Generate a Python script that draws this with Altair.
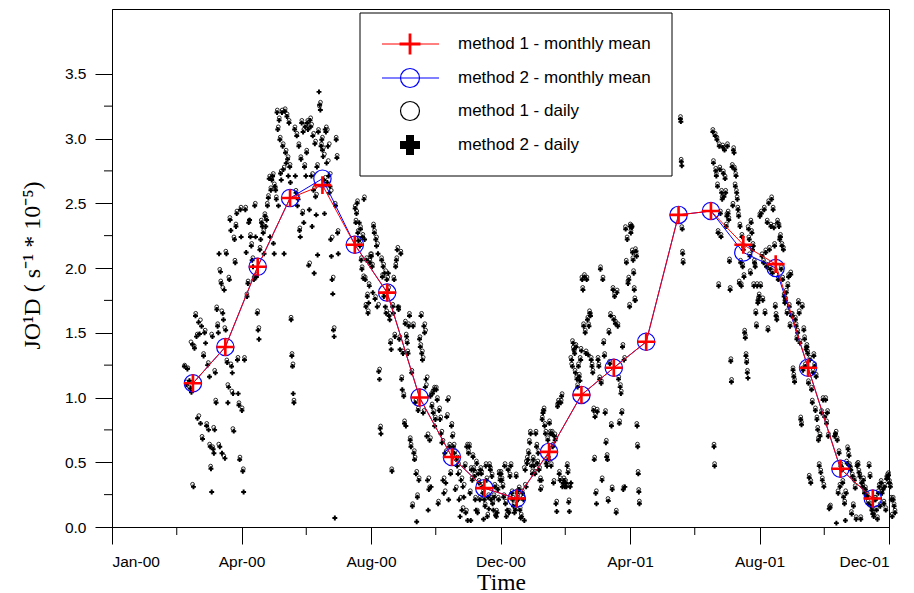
import altair as alt
import pandas as pd

# ---------------- data ----------------
mean_months = ["2000-03", "2000-04", "2000-05", "2000-06", "2000-07", "2000-08",
               "2000-09", "2000-10", "2000-11", "2000-12", "2001-01", "2001-02",
               "2001-03", "2001-04", "2001-05", "2001-06", "2001-07", "2001-08",
               "2001-09", "2001-10", "2001-11", "2001-12"]
mean_m1 = [1.11, 1.39, 2.01, 2.54, 2.64, 2.18, 1.81, 1.00, 0.54, 0.30, 0.22, 0.58,
           1.02, 1.23, 1.43, 2.41, 2.44, 2.18, 2.03, 1.23, 0.45, 0.22]
mean_m2 = [1.11, 1.39, 2.01, 2.54, 2.69, 2.18, 1.81, 1.00, 0.54, 0.30, 0.22, 0.58,
           1.02, 1.23, 1.43, 2.41, 2.44, 2.12, 2.00, 1.23, 0.45, 0.22]

# daily data, grouped in runs of days (start / end in months since Jan 2000)
daily_start = [2.22, 3, 4, 5, 6, 7.5, 8, 9, 10, 11, 12, 13, 14, 15, 16.0, 17.55,
               18.55, 19, 20, 21, 22, 23]
daily_end = [3, 4, 5, 6, 7, 8, 9, 10, 11, 12, 13, 14, 15, 16, 16.3, 17.65,
             19, 20, 21, 22, 23, 24.2]

daily_m2 = [
    [1.24, None, 1.10, 1.22, None, 1.13, 1.07, 1.04, 1.41, 0.31, 1.38, 1.63, 1.47, 0.84, 1.58, 1.49,
     0.80, 1.55, 0.68, 1.32, 1.50, 1.42, 0.78, 1.25, 0.75],
    [1.16, 0.62, 0.45, 0.27, 1.47, 0.60, 0.57, 0.75, 1.19, 0.96, 1.68, 1.55, 1.50, 2.11, 0.62, 1.97,
     1.88, 0.57, 1.65, 1.60, 1.83, 0.53, 1.52, 2.11, 1.27, 0.96, 1.08, 1.91, 2.37, 2.29, 1.24, 1.19,
     1.03, 0.74, 2.22, 2.04, 2.32, 2.42, 1.29, 1.03, 0.94, 0.52, 2.45, 2.24],
    [0.90, 0.43, 0.27, 1.29, 2.45, 2.12, 1.78, 1.88, 2.35, 2.37, 2.24, 2.17, 2.06, 2.01, 1.91, 2.48,
     2.24, 1.93, 1.65, 1.52, 1.45, 2.14, 2.22, 2.35, 2.32, 2.27, 2.11, 2.40, 2.32, 2.37, 2.48, 2.54,
     2.69, 2.24, 2.60, 2.68, 2.71, 2.19],
    [2.11, 2.63, 2.60, 2.53, 3.20, 3.07, 2.48, 3.14, 2.99, 2.73, 2.68, 3.20, 2.94, 2.76, 2.11, 3.21,
     2.89, 2.81, 3.17, 2.84, 2.71, 3.12, 2.78, 2.66, 1.60, 1.32, 1.24, 1.03, 0.96, 3.07, 2.71, 2.58,
     3.02, 2.48, 2.53, 2.94, 2.29, 2.24, 2.84, 3.12, 2.42, 3.05, 2.35, 2.78, 3.09, 2.71],
    [2.89, 3.12, 3.07, 2.02, 2.45, 3.14, 3.09, 2.71, 2.32, 3.02, 2.60, 1.96, 2.96, 2.55, 2.41, 2.78,
     2.10, 3.05, 3.36, 3.26, 3.22, 2.94, 2.99, 2.91, 2.86, 2.68, 2.42, 3.07, 3.05, 2.81, 2.66, 2.94,
     2.71, 2.58, 2.63, 2.22, 2.09, 1.91, 1.80, 1.52, 1.47, 0.07, 2.48, 2.99, 2.85, 2.27, 2.11],
    [2.46, 2.35, 2.42, 2.50, 2.27, 2.21, 2.35, 2.17, 2.30, 2.06, 1.99, 2.24, 1.92, 2.53, 2.22, 1.91,
     1.70, 2.06, 1.78, 1.65, 1.73, 1.86, 2.04, 2.09],
    [2.09, 2.01, 1.81, 2.32, 2.27, 1.76, 2.22, 2.17, 1.70, 2.11, 1.20, 1.14, 0.76, 0.72, 2.06, 1.93,
     2.01, 1.78, 1.96, 1.70, 1.65, 1.91, 1.83, 1.96, 1.63, 1.60, 1.42, 1.37, 0.43, 1.70, 1.65, 1.91,
     1.47, 2.01, 2.06, 2.14, 1.70, 1.68, 1.45, 1.37, 2.11, 1.14, 1.06, 1.34],
    [1.01, 0.80, 1.57, 0.78, 1.47, 1.42, 1.34, 1.55, 1.63, 0.67, 0.62, 1.19, 0.16, 1.55, 0.57, 0.52,
     0.96, 0.41, 0.04, 0.23, 0.90, 0.36, 1.45, 1.39, 1.63, 1.34, 1.29, 0.88, 1.55, 1.50, 1.08, 1.14,
     0.70, 0.36, 0.13, 0.29, 0.67, 1.01, 0.31, 0.93, 1.03, 0.88, 1.06, 0.78, 0.83],
    [1.06, 0.98, 0.18, 0.90, 0.83, 0.72, 0.65, 0.36, 0.26, 0.57, 0.34, 0.85, 0.98, 0.21, 0.62, 0.41,
     0.78, 0.70, 0.62, 0.57, 0.29, 0.52, 0.47, 0.41, 0.21, 0.08, 0.36, 0.13, 0.31, 0.23, 0.47, 0.11,
     0.62, 0.05],
    [0.57, 0.62, 0.26, 0.05, 0.44, 0.36, 0.54, 0.44, 0.39, 0.21, 0.13, 0.49, 0.11, 0.41, 0.34, 0.21,
     0.44, 0.41, 0.31, 0.26, 0.06, 0.21, 0.16, 0.47, 0.36, 0.08, 0.23, 0.14, 0.47, 0.44, 0.21, 0.39,
     0.18, 0.13, 0.23, 0.31, 0.09, 0.08, 0.11, 0.29, 0.21, 0.41, 0.36],
    [0.41, 0.36, 0.31, 0.23, 0.47, 0.18, 0.08, 0.13, 0.44, 0.11, 0.39, 0.47, 0.26, 0.21, 0.16, 0.11,
     0.13, 0.39, 0.26, 0.21, 0.29, 0.13, 0.07, 0.08, 0.26, 0.21, 0.05, 0.44, 0.31, 0.49, 0.52, 0.57,
     0.65, 0.72, 0.47, 0.41],
    [0.52, 0.47, 0.41, 0.72, 0.62, 0.49, 0.57, 0.44, 0.36, 0.29, 0.36, 0.83, 0.88, 0.90, 0.78, 0.72,
     0.49, 0.47, 0.67, 0.52, 0.80, 0.72, 0.47, 0.72, 0.62, 0.34, 0.70, 0.67, 0.18, 0.12, 0.93, 0.96,
     0.41, 0.36, 0.96, 1.01, 0.31, 0.34, 0.36, 0.31],
    [0.34, 0.31, 0.47, 0.42, 0.19, 0.12, 0.31, 0.34, 1.29, 1.24, 1.42, 1.37, 1.34, 1.19, 1.39, 1.14,
     1.08, 1.24, 1.16, 1.13, 1.29, 1.36, 1.91, 1.83, 1.55, 1.93, 1.50, 1.34, 1.91, 1.60, 1.33, 1.55,
     1.65, 1.63, 1.29, 1.24, 1.19, 0.90, 0.52, 0.85, 0.26, 0.18, 0.89],
    [1.29, 1.24, 1.14, 1.99, 1.11, 0.36, 1.91, 1.42, 1.32, 0.88, 0.65, 0.54, 0.52, 0.20, 1.50, 1.26,
     1.63, 0.78, 0.29, 1.83, 1.60, 1.78, 1.57, 0.11, 1.81, 1.55, 1.14, 0.80, 1.08, 1.03, 0.88, 1.39,
     0.29, 1.29, 0.31, 2.30, 2.04, 2.22, 1.88, 1.91, 1.70],
    [2.32, 2.27, 2.31, 2.32, 2.12, 2.06, 1.96, 1.83, 1.75, 1.75, 2.13, 2.09, 0.78, 0.62, 0.41, 0.27,
     0.18],
    [3.15, 3.13, 2.82, 2.79, 2.30, 2.11, 2.04],
    [3.05, 2.81, 0.62, 0.47, 3.02, 2.75, 2.71, 2.99, 2.63, 2.27, 1.86, 2.94, 2.76, 2.42, 2.24, 2.58,
     2.53, 2.93, 2.73, 2.55, 2.91, 2.69, 2.58, 2.32, 2.40],
    [2.94, 2.42, 2.37, 2.05, 1.83, 1.28, 1.12, 2.78, 2.48, 2.91, 2.89, 2.76, 2.63, 2.71, 2.58, 2.53,
     2.45, 2.40, 1.88, 2.32, 2.04, 1.86, 2.24, 2.01, 2.14, 1.93, 1.50, 1.46, 1.32, 1.27, 1.19, 1.15,
     2.30, 2.22, 2.09, 1.96, 2.35, 2.27, 2.14, 2.17, 1.86, 2.04, 2.01, 1.65, 1.55, 1.86, 1.73, 1.75,
     1.78],
    [2.40, 1.86, 2.42, 2.09, 1.75, 2.04, 2.45, 1.65, 2.12, 2.01, 2.35, 1.52, 2.50, 2.14, 1.99, 2.32,
     2.53, 1.96, 2.45, 2.31, 2.17, 1.70, 1.63, 1.60, 2.35, 1.91, 2.32, 2.22, 2.24, 1.99, 2.17, 1.91,
     2.14, 1.78, 1.73, 1.75, 1.81, 1.65, 1.86, 1.93, 1.70, 1.55, 1.95, 1.63],
    [1.63, 1.21, 1.16, 1.12, 1.60, 1.55, 1.45, 1.50, 1.73, 1.65, 1.42, 0.83, 0.79, 1.70, 1.21, 1.52,
     1.45, 1.24, 1.37, 1.39, 1.34, 1.11, 0.38, 1.29, 0.34, 1.06, 0.96, 1.19, 1.32, 1.24, 0.90, 1.16,
     0.83, 0.75, 0.67, 0.47, 0.70, 0.42, 0.88, 0.36, 0.98, 0.31],
    [0.85, 0.98, 0.80, 0.88, 0.70, 0.14, 0.15, None, None, None, None, 0.70, 0.72, 0.03, 0.67, 0.26,
     0.57, 0.31, 0.47, 0.44, 0.34, 0.23, 0.18, 0.05, 0.26, 0.49, 0.60, 0.55, 0.47, 0.44, 0.10, 0.39,
     0.16, 0.36, 0.30, 0.06],
    [0.47, 0.48, 0.42, 0.39, 0.06, 0.34, 0.31, 0.36, 0.26, 0.29, 0.23, 0.24, 0.18, 0.47, 0.39, 0.16,
     0.13, 0.10, 0.08, 0.21, 0.21, 0.13, 0.06, 0.26, 0.31, 0.16, 0.34, 0.26, 0.29, 0.18, 0.31, 0.13,
     0.37, 0.39, 0.40, 0.34, 0.31, 0.21, 0.08, 0.21, 0.16, 0.11],
]

daily_m1 = [
    [1.25, 1.12, 1.23, 1.08, 1.43, 0.33, 1.40, 1.65, 1.49, 0.86, 1.60, 0.70, 1.34, 1.52, 0.80, 1.27],
    [0.64, 0.47, 1.49, 0.62, 0.77, 1.21, 0.98, 1.70, 1.57, 0.64, 1.99, 1.90, 1.67, 1.85, 0.55, 1.54,
     2.13, 1.29, 1.10, 1.93, 2.39, 1.26, 1.05, 0.76, 2.24, 2.06, 2.34, 2.44, 1.31, 0.96, 0.54, 2.47],
    [0.92, 0.45, 1.31, 2.47, 1.80, 1.90, 2.37, 2.26, 2.19, 2.08, 1.93, 2.50, 1.95, 1.67, 1.54, 2.16,
     2.37, 2.34, 2.29, 2.42, 2.39, 2.50, 2.56, 2.71, 2.62, 2.70, 2.73],
    [2.65, 2.62, 2.55, 3.22, 3.09, 3.16, 3.01, 2.75, 3.22, 2.96, 2.78, 3.23, 2.91, 3.19, 2.86, 3.14,
     2.80, 1.62, 1.34, 1.26, 0.98, 3.09, 2.60, 3.04, 2.55, 2.96, 2.31, 2.86, 3.14, 2.44, 3.07, 2.80,
     3.11],
    [2.91, 3.14, 3.09, 2.04, 3.16, 3.11, 2.73, 3.04, 2.62, 2.98, 2.57, 2.80, 3.07, 3.25, 3.28, 2.96,
     3.01, 2.93, 2.88, 2.70, 3.09, 3.07, 2.83, 2.96, 2.73, 2.60, 2.24, 1.93, 1.54, 2.50, 3.01, 2.87,
     2.29],
    [2.48, 2.37, 2.44, 2.52, 2.29, 2.23, 2.19, 2.32, 2.08, 2.01, 2.26, 1.94, 2.55, 1.93, 1.72, 2.08,
     1.80, 1.67, 1.88, 2.06, 2.11],
    [2.11, 2.03, 2.34, 2.29, 1.78, 2.24, 2.19, 1.72, 1.22, 0.78, 2.08, 1.95, 2.03, 1.80, 1.98, 1.67,
     1.93, 1.85, 1.65, 1.44, 0.45, 1.72, 1.93, 1.49, 2.03, 2.08, 2.16, 1.70, 1.47, 2.13, 1.16, 1.36],
    [1.03, 0.82, 1.59, 1.49, 1.44, 1.36, 1.57, 1.65, 0.69, 0.64, 1.21, 0.18, 1.57, 0.59, 0.54, 0.98,
     0.43, 0.25, 0.92, 0.38, 1.47, 1.41, 1.65, 1.36, 1.31, 0.90, 1.57, 1.52, 1.10, 1.16, 0.72, 0.38,
     0.31, 0.69, 1.03, 0.95, 1.05, 0.90, 1.08, 0.85],
    [1.08, 1.00, 0.20, 0.92, 0.85, 0.74, 0.67, 0.38, 0.28, 0.59, 0.87, 1.00, 0.64, 0.43, 0.80, 0.72,
     0.64, 0.59, 0.31, 0.54, 0.49, 0.43, 0.23, 0.38, 0.15, 0.33, 0.49, 0.13, 0.64],
    [0.59, 0.64, 0.28, 0.46, 0.38, 0.56, 0.46, 0.41, 0.23, 0.51, 0.13, 0.43, 0.36, 0.23, 0.46, 0.43,
     0.33, 0.28, 0.23, 0.18, 0.49, 0.38, 0.10, 0.25, 0.49, 0.46, 0.23, 0.41, 0.20, 0.25, 0.33, 0.11,
     0.13, 0.31, 0.23, 0.43, 0.38],
    [0.43, 0.38, 0.33, 0.25, 0.49, 0.20, 0.10, 0.46, 0.13, 0.41, 0.49, 0.28, 0.23, 0.18, 0.15, 0.41,
     0.28, 0.23, 0.31, 0.15, 0.10, 0.28, 0.23, 0.46, 0.33, 0.51, 0.54, 0.59, 0.67, 0.74, 0.49, 0.43],
    [0.54, 0.49, 0.43, 0.74, 0.64, 0.51, 0.59, 0.46, 0.38, 0.31, 0.85, 0.90, 0.92, 0.80, 0.74, 0.51,
     0.69, 0.54, 0.82, 0.74, 0.49, 0.74, 0.64, 0.36, 0.72, 0.69, 0.20, 0.95, 0.98, 0.43, 0.38, 0.98,
     1.03, 0.33, 0.38, 0.33],
    [0.36, 0.33, 0.49, 0.44, 0.21, 0.33, 1.31, 1.26, 1.44, 1.39, 1.36, 1.21, 1.41, 1.16, 1.10, 1.26,
     1.18, 1.31, 1.38, 1.93, 1.85, 1.57, 1.95, 1.52, 1.36, 1.93, 1.62, 1.57, 1.67, 1.65, 1.31, 1.26,
     1.21, 0.92, 0.54, 0.87, 0.28, 0.91],
    [1.31, 1.26, 1.16, 2.01, 1.13, 0.38, 1.93, 1.44, 1.34, 0.90, 0.67, 0.56, 0.22, 1.52, 1.28, 1.65,
     0.80, 0.31, 1.85, 1.62, 1.80, 1.59, 0.13, 1.83, 1.57, 1.16, 0.82, 1.10, 1.05, 0.90, 1.41, 0.31,
     1.31, 2.32, 2.06, 2.24, 1.90, 1.93, 1.72],
    [2.34, 2.29, 2.33, 2.14, 2.08, 1.98, 1.85, 1.77, 2.15, 2.11, 0.80, 0.64, 0.43, 0.29, 0.20],
    [3.17, 2.84, 2.32, 2.13, 2.06],
    [3.07, 2.83, 0.64, 0.49, 3.04, 2.77, 2.73, 3.01, 2.65, 2.29, 1.88, 2.96, 2.78, 2.44, 2.26, 2.60,
     2.55, 2.95, 2.75, 2.57, 2.93, 2.71, 2.60, 2.34, 2.42],
    [2.96, 2.44, 2.39, 2.07, 1.85, 1.30, 1.14, 2.80, 2.50, 2.93, 2.78, 2.65, 2.73, 2.60, 2.55, 2.47,
     2.42, 1.90, 2.34, 2.06, 1.88, 2.26, 2.03, 2.16, 1.95, 1.52, 1.48, 1.34, 1.29, 1.21, 2.32, 2.24,
     2.11, 1.98, 2.37, 2.29, 2.16, 2.19, 1.88, 2.06, 2.03, 1.67, 1.57, 1.88, 1.75, 1.77, 1.80],
    [2.42, 1.88, 2.44, 2.11, 1.77, 2.06, 2.47, 1.67, 2.14, 2.03, 2.37, 1.54, 2.52, 2.16, 2.01, 2.34,
     2.55, 1.98, 2.47, 2.33, 2.19, 1.72, 1.65, 1.62, 2.37, 1.93, 2.34, 2.24, 2.26, 2.01, 2.19, 1.93,
     2.16, 1.80, 1.75, 1.77, 1.83, 1.67, 1.88, 1.95, 1.72, 1.57, 1.97, 1.65],
    [1.65, 1.23, 1.18, 1.14, 1.62, 1.57, 1.47, 1.52, 1.75, 1.67, 1.44, 0.85, 0.81, 1.72, 1.23, 1.54,
     1.47, 1.26, 1.39, 1.41, 1.36, 1.13, 0.40, 1.31, 0.36, 1.08, 0.98, 1.21, 1.34, 1.26, 0.92, 1.18,
     0.85, 0.77, 0.69, 0.49, 0.72, 0.44, 0.90, 0.38, 1.00, 0.33],
    [0.87, 1.00, 0.82, 0.90, 0.72, 0.16, 0.17, None, None, None, None, 0.72, 0.74, 0.69, 0.28, 0.59,
     0.33, 0.49, 0.46, 0.36, 0.25, 0.20, 0.28, 0.51, 0.62, 0.57, 0.49, 0.46, 0.12, 0.41, 0.18, 0.38,
     0.32, 0.08],
    [0.49, 0.50, 0.44, 0.41, 0.08, 0.36, 0.33, 0.38, 0.28, 0.31, 0.25, 0.26, 0.20, 0.49, 0.41, 0.18,
     0.15, 0.12, 0.10, 0.23, 0.23, 0.15, 0.08, 0.28, 0.33, 0.18, 0.36, 0.28, 0.31, 0.20, 0.33, 0.15,
     0.39, 0.41, 0.42, 0.36, 0.33, 0.23, 0.10, 0.23, 0.18, 0.13],
]

tick_labels = ["Jan-00", "Apr-00", "Aug-00", "Dec-00", "Apr-01", "Aug-01", "Dec-01"]
y_ticks = [0.0, 0.5, 1.0, 1.5, 2.0, 2.5, 3.0, 3.5]
legend_labels = ["method 1 - monthly mean", "method 2 - monthly mean",
                 "method 1 - daily", "method 2 - daily"]

# ---------------- tables ----------------
def month_pos(s):
    y, m = s.split("-")
    return (int(y) - 2000) * 12 + (int(m) - 1) + 0.5

mean_df1 = pd.DataFrame({"x": [month_pos(s) for s in mean_months], "y": mean_m1})
mean_df2 = pd.DataFrame({"x": [month_pos(s) for s in mean_months], "y": mean_m2})

def daily_df(groups):
    rows = []
    for s, e, vals in zip(daily_start, daily_end, groups):
        n = len(vals)
        for i, v in enumerate(vals):
            if v is not None:
                rows.append({"x": s + (e - s) * (i + 0.5) / n, "y": v})
    return pd.DataFrame(rows)

d1 = daily_df(daily_m1)
d2 = daily_df(daily_m2)

x_ticks = [4 * i for i in range(len(tick_labels))]
x_minor = [4 * i + 2 for i in range(len(tick_labels) - 1)]
y_minor = [0.25 + 0.5 * i for i in range(7)]

SANS = "Arial, Liberation Sans, sans-serif"
SERIF = "Times New Roman, Liberation Serif, serif"

label_expr = "[" + ",".join("'%s'" % t for t in tick_labels) + "][round(datum.value / 4)]"

xscale = alt.Scale(domain=[0, 24], nice=False, zero=False)
yscale = alt.Scale(domain=[0, 4], nice=False, zero=True)

X = alt.X("x:Q", scale=xscale, axis=alt.Axis(
    values=x_ticks, labelExpr=label_expr, tickSize=17, labelPadding=10, grid=False,
    title="Time", titleFont=SERIF, titleFontSize=23.5, titleFontWeight="normal",
    titleX=389, titleY=62, titleBaseline="alphabetic", titleAlign="center"))
Y = alt.Y("y:Q", scale=yscale, axis=alt.Axis(
    values=y_ticks, format=".1f", tickSize=17, labelPadding=9, grid=False,
    title="JO\u00b9D ( s\u207b\u00b9 * 10\u207b\u2075)", titleFont=SERIF, titleFontSize=24,
    titleFontWeight="normal", titleAngle=270, titleX=-73, titleY=256,
    titleBaseline="alphabetic", titleAlign="center"))

PLUS = "M-1,0L1,0M0,-1L0,1"

daily1 = alt.Chart(d1).mark_point(shape="circle", filled=False, size=14, strokeWidth=0.9,
                                  color="#111", opacity=1).encode(x=X, y=Y)
daily2 = alt.Chart(d2).mark_point(shape="cross", filled=True, size=24, color="black",
                                  opacity=1).encode(x=X, y=Y)

ymin = alt.Chart(pd.DataFrame({"y": y_minor})).mark_rule(color="black", strokeWidth=1).encode(
    y=Y, x=alt.value(-8), x2=alt.value(0))
xmin = alt.Chart(pd.DataFrame({"x": x_minor})).mark_rule(color="black", strokeWidth=1).encode(
    x=X, y=alt.value(518), y2=alt.value(526))

blue_line = alt.Chart(mean_df2).mark_line(color="blue", strokeWidth=1).encode(x=X, y=Y)
blue_pts = alt.Chart(mean_df2).mark_point(shape="circle", filled=False, size=300,
                                          strokeWidth=1.2, color="blue", opacity=1).encode(x=X, y=Y)
red_line = alt.Chart(mean_df1).mark_line(color="red", strokeWidth=1).encode(x=X, y=Y)
red_pts = alt.Chart(mean_df1).mark_point(shape=PLUS, filled=False, size=320, strokeWidth=2.6,
                                         color="red", opacity=1).encode(x=X, y=Y)

# ---------------- legend ----------------
LX0, LX1, LY0, LY1 = 248, 560, 4, 167
row_y = [35, 69, 102, 136]
sym_x, line_x0, line_x1, text_x = 298, 270, 327, 346

box = alt.Chart(pd.DataFrame({"k": [0]})).mark_rect(fill="white", stroke="black", strokeWidth=1).encode(
    x=alt.value(LX0), x2=alt.value(LX1), y=alt.value(LY0), y2=alt.value(LY1))

leg_layers = [box]
sym_specs = [
    dict(shape=PLUS, filled=False, size=440, strokeWidth=2.8, color="red", line="red"),
    dict(shape="circle", filled=False, size=360, strokeWidth=1.2, color="blue", line="blue"),
    dict(shape="circle", filled=False, size=360, strokeWidth=1.2, color="black", line=None),
    dict(shape="cross", filled=True, size=400, strokeWidth=0, color="black", line=None),
]
for lab, yy, sp in zip(legend_labels, row_y, sym_specs):
    d = pd.DataFrame({"label": [lab]})
    if sp["line"]:
        leg_layers.append(alt.Chart(d).mark_rule(color=sp["line"], strokeWidth=1).encode(
            x=alt.value(line_x0), x2=alt.value(line_x1), y=alt.value(yy)))
    leg_layers.append(alt.Chart(d).mark_point(shape=sp["shape"], filled=sp["filled"], size=sp["size"],
                                              strokeWidth=sp["strokeWidth"], color=sp["color"],
                                              opacity=1).encode(x=alt.value(sym_x), y=alt.value(yy)))
    leg_layers.append(alt.Chart(d).mark_text(align="left", baseline="middle", font=SANS, fontSize=17,
                                             color="black").encode(
        x=alt.value(text_x), y=alt.value(yy), text="label:N"))

chart = alt.layer(daily1, daily2, ymin, xmin, blue_line, blue_pts, red_line, red_pts,
                  *leg_layers).properties(
    width=777, height=518,
    autosize=alt.AutoSizeParams(type="none"),
    padding={"left": 112, "top": 9, "right": 25, "bottom": 66},
    background="white",
).configure_view(stroke="black", strokeWidth=1).configure_axis(
    domainColor="black", tickColor="black", labelColor="black", titleColor="black",
    labelFont=SANS, labelFontSize=15.5, domainWidth=1, tickWidth=1)

chart.save("out.html", embed_options={"renderer": "svg", "actions": False})
